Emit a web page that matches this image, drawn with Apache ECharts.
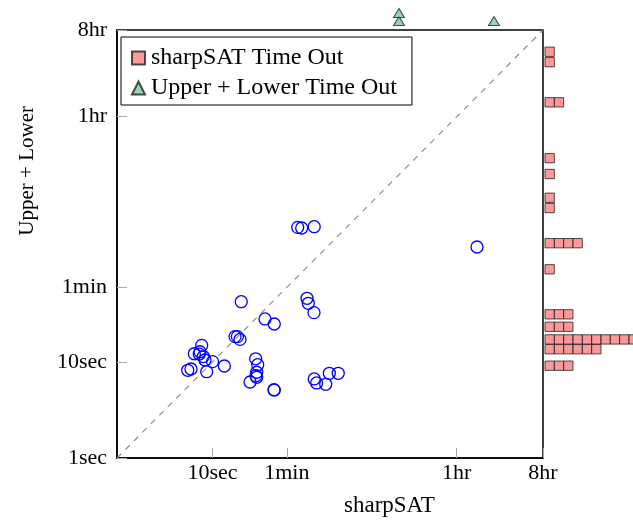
<!DOCTYPE html>
<html>
<head>
<meta charset="utf-8" />
<title>sharpSAT vs Upper + Lower</title>
<style>
  html, body { margin: 0; padding: 0; background: #fff; }
  #main { width: 633px; height: 525px; }
</style>
</head>
<body>
<div id="main"></div>
<script src="https://cdn.jsdelivr.net/npm/echarts@6/dist/echarts.min.js"></script>
<script>
// tick positions (seconds) and their labels
var tickSeconds = [1, 10, 60, 3600, 28800];
var tickNames = ['1sec', '10sec', '1min', '1hr', '8hr'];

// solved by both: sharpSAT time vs Upper + Lower time (seconds)
var sharpSAT = [77.9, 85.8, 116, 20.0, 97.5, 100.6, 115.4, 35.4, 44.3, 17.2, 18.2, 19.4,
  7.70, 6.45, 7.39, 7.27, 8.01, 8.34, 10.0, 13.3, 8.69, 5.50, 5.95,
  28.3, 29.7, 29.0, 28.5, 29.0, 24.7, 44.0, 44.3, 116, 123, 153, 167, 207, 5870];
var upperLower = [253, 249, 257, 42.5, 46.1, 40.9, 32.7, 28.1, 24.9, 18.4, 18.4, 17.2,
  14.9, 12.2, 12.8, 12.1, 11.4, 10.5, 10.1, 9.09, 7.93, 8.20, 8.46,
  10.8, 9.38, 7.82, 7.20, 6.93, 6.19, 5.15, 5.10, 6.66, 6.05, 5.86, 7.63, 7.63, 158];

// sharpSAT timed out: Upper + Lower time (seconds) and how many instances
var satOutTimes = [17100, 13300, 5080, 1330, 910, 515, 402, 173, 92.5, 31.4, 23.3, 17.2, 13.6, 9.16];
var satOutCounts = [1, 1, 2, 1, 1, 1, 1, 4, 1, 3, 3, 10, 6, 3];

// Upper + Lower timed out: sharpSAT time (seconds) and how many instances
var ulOutTimes = [895, 8840];
var ulOutCounts = [2, 1];

var LMAX = Math.log10(28800);
var FONT = 'Liberation Serif';

function lg(v) { return Math.log10(v); }

function tickName(v) {
  var best = 0;
  for (var i = 1; i < tickSeconds.length; i++) {
    if (Math.abs(lg(tickSeconds[i]) - v) < Math.abs(lg(tickSeconds[best]) - v)) best = i;
  }
  return tickNames[best];
}

var points = sharpSAT.map(function (x, i) { return [lg(x), lg(upperLower[i])]; });

var squares = [];
satOutTimes.forEach(function (t, i) {
  for (var k = 0; k < satOutCounts[i]; k++) squares.push([k + 0.5, lg(t)]);
});

var triangles = [];
ulOutTimes.forEach(function (t, i) {
  for (var k = 0; k < ulOutCounts[i]; k++) triangles.push([lg(t), k + 0.5]);
});

var tickStyle = { show: true, inside: true, length: 10, lineStyle: { color: '#aaa', width: 1 } };

var myChart = echarts.init(document.getElementById('main'));

var option = {
  animation: false,
  backgroundColor: '#fff',
  textStyle: { fontFamily: FONT },
  grid: [
    { left: 117, top: 30, width: 426, height: 428, show: true, borderColor: '#000', borderWidth: 1.5, backgroundColor: 'transparent' },
    { left: 545, top: 30, width: 88, height: 428 },
    { left: 117, top: 0, width: 426, height: 25 }
  ],
  xAxis: [
    {
      gridIndex: 0, type: 'value', min: 0, max: LMAX,
      axisLine: { show: true, lineStyle: { color: '#000', width: 1.5 } },
      axisTick: Object.assign({ customValues: tickSeconds.slice(1).map(lg) }, tickStyle),
      axisLabel: {
        customValues: tickSeconds.slice(1).map(lg), formatter: tickName,
        color: '#000', fontFamily: FONT, fontSize: 22, margin: 4
      },
      splitLine: { show: false }
    },
    { gridIndex: 1, type: 'value', min: 0, max: 88 / 9.33, show: false },
    { gridIndex: 2, type: 'value', min: 0, max: LMAX, show: false }
  ],
  yAxis: [
    {
      gridIndex: 0, type: 'value', min: 0, max: LMAX,
      axisLine: { show: true, lineStyle: { color: '#000', width: 1.5 } },
      axisTick: Object.assign({ customValues: tickSeconds.map(lg) }, tickStyle),
      axisLabel: {
        customValues: tickSeconds.map(lg), formatter: tickName,
        color: '#000', fontFamily: FONT, fontSize: 22, margin: 10
      },
      splitLine: { show: false }
    },
    { gridIndex: 1, type: 'value', min: 0, max: LMAX, show: false },
    { gridIndex: 2, type: 'value', min: 0, max: 25 / 8, show: false }
  ],
  legend: {
    orient: 'vertical',
    left: 121, top: 37,
    padding: [9, 15, 5, 10],
    itemGap: 6,
    itemWidth: 13, itemHeight: 13,
    borderColor: '#000', borderWidth: 1,
    backgroundColor: '#fff',
    textStyle: { fontFamily: FONT, fontSize: 24, color: '#000', padding: [0, 0, 0, 1] },
    data: [
      { name: 'sharpSAT Time Out', icon: 'rect' },
      { name: 'Upper + Lower Time Out', icon: 'triangle' }
    ]
  },
  graphic: [
    { type: 'text', left: 17, top: 106, rotation: Math.PI / 2,
      style: { text: 'Upper + Lower', font: '21px "Liberation Serif"', fill: '#000' } },
    { type: 'text', left: 344, top: 494,
      style: { text: 'sharpSAT', font: '23px "Liberation Serif"', fill: '#000' } }
  ],
  series: [
    {
      name: 'diagonal', type: 'line', xAxisIndex: 0, yAxisIndex: 0,
      data: [[0, 0], [LMAX, LMAX]], symbol: 'none', silent: true,
      lineStyle: { color: '#888', width: 1.1, type: [6, 6] }
    },
    {
      name: 'solved', type: 'scatter', xAxisIndex: 0, yAxisIndex: 0,
      data: points, symbol: 'circle', symbolSize: 12,
      itemStyle: { color: 'rgba(0,0,0,0)', borderColor: '#0000ff', borderWidth: 1.3, opacity: 1 }
    },
    {
      name: 'sharpSAT Time Out', type: 'scatter', xAxisIndex: 1, yAxisIndex: 1,
      data: squares, symbol: 'rect', symbolSize: 9.3, clip: false,
      itemStyle: { color: '#ff8080', borderColor: '#222', borderWidth: 1 }
    },
    {
      name: 'Upper + Lower Time Out', type: 'scatter', xAxisIndex: 2, yAxisIndex: 2,
      data: triangles, symbol: 'triangle', symbolSize: [11, 9], clip: false,
      itemStyle: { color: '#7fc8a0', borderColor: '#222', borderWidth: 1 }
    }
  ]
};
myChart.setOption(option);
</script>
</body>
</html>
